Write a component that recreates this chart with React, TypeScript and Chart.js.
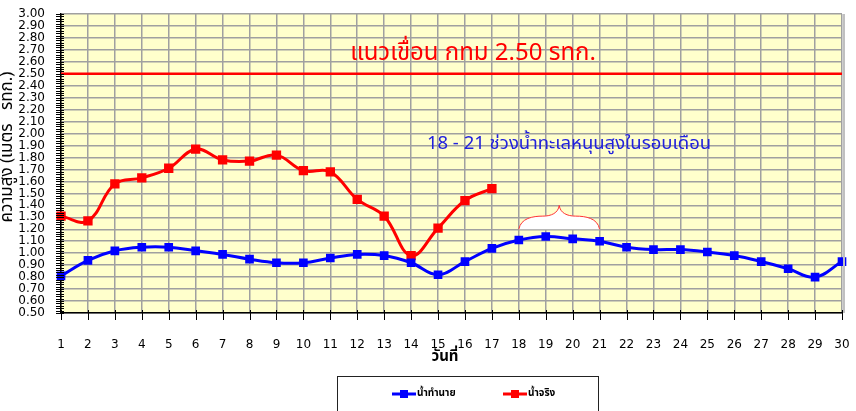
import React, { useEffect, useRef } from "react";
import { Chart, registerables } from "chart.js";

Chart.register(...registerables);

const days = Array.from({ length: 30 }, (_, i) => String(i + 1));
const predicted = [0.81, 0.94, 1.02, 1.05, 1.05, 1.02, 0.99, 0.95, 0.92, 0.92, 0.96, 0.99, 0.98, 0.92, 0.82, 0.93, 1.04, 1.11, 1.14, 1.12, 1.10, 1.05, 1.03, 1.03, 1.01, 0.98, 0.93, 0.87, 0.80, 0.93];
const actual = [1.31, 1.27, 1.58, 1.63, 1.71, 1.87, 1.78, 1.77, 1.82, 1.69, 1.68, 1.45, 1.31, 0.98, 1.21, 1.44, 1.54];
const damLevel = 2.5;
const yMin = 0.5;
const yMax = 3.0;
const labelPredicted = "น้ำทำนาย";
const labelActual = "น้ำจริง";
const damText = "แนวเขื่อน กทม 2.50 รทก.";
const tideText = "18 - 21 ช่วงน้ำทะเลหนุนสูงในรอบเดือน";
const xTitle = "วันที่";
const yTitle = "ความสูง (เมตร   รทก.)";
const tideStart = 17; // index of day 18
const tideEnd = 20; // index of day 21

const THAI = "Tahoma, 'Noto Sans Thai', 'Noto Sans', 'DejaVu Sans', sans-serif";
const NUM = "'DejaVu Sans', Tahoma, sans-serif";

const decorPlugin = {
  id: "decor",
  beforeDraw(chart: any) {
    const { ctx, chartArea } = chart;
    ctx.save();
    ctx.fillStyle = "#ffffcc";
    ctx.fillRect(chartArea.left, chartArea.top, chartArea.right - chartArea.left, chartArea.bottom - chartArea.top);
    ctx.restore();
  },
  afterDatasetsDraw(chart: any) {
    const { ctx, chartArea } = chart;
    const xs = chart.scales.x;
    const ys = chart.scales.y;
    ctx.save();
    // right border shadow
    ctx.fillStyle = "#c0c0c0";
    ctx.fillRect(chartArea.right + 1, chartArea.top, 2, chartArea.bottom - chartArea.top);
    // minor y ticks
    ctx.strokeStyle = "#000";
    ctx.lineWidth = 1;
    for (let v = yMin; v <= yMax + 1e-6; v += 0.02) {
      const y = Math.round(ys.getPixelForValue(v)) + 0.5;
      ctx.beginPath();
      ctx.moveTo(chartArea.left - 5, y);
      ctx.lineTo(chartArea.left + 3, y);
      ctx.stroke();
    }
    // x ticks
    for (let i = 0; i < days.length; i++) {
      const x = Math.round(xs.getPixelForValue(i)) + 0.5;
      ctx.beginPath();
      ctx.moveTo(x, chartArea.bottom - 3);
      ctx.lineTo(x, chartArea.bottom + 7);
      ctx.stroke();
    }
    // bracket
    const x0 = xs.getPixelForValue(tideStart);
    const x1 = xs.getPixelForValue(tideEnd);
    const xm = (x0 + x1) / 2;
    const yb = ys.getPixelForValue(1.2);
    const ysh = ys.getPixelForValue(1.31);
    const yp = ys.getPixelForValue(1.4);
    const path = () => {
      ctx.beginPath();
      ctx.moveTo(x0, yb);
      ctx.bezierCurveTo(x0 + 2, ysh + 2, x0 + 14, ysh, x0 + 24, ysh);
      ctx.bezierCurveTo(xm - 8, ysh, xm - 1, ysh - 3, xm, yp);
      ctx.bezierCurveTo(xm + 1, ysh - 3, xm + 8, ysh, x1 - 24, ysh);
      ctx.bezierCurveTo(x1 - 14, ysh, x1 - 2, ysh + 2, x1, yb);
    };
    path();
    ctx.closePath();
    ctx.fillStyle = "#ffffff";
    ctx.fill();
    path();
    ctx.strokeStyle = "#ff3333";
    ctx.lineWidth = 1;
    ctx.stroke();

    // texts
    ctx.textAlign = "center";
    ctx.textBaseline = "middle";
    ctx.fillStyle = "#ff0000";
    ctx.font = "24px " + THAI;
    ctx.fillText(damText, 473, 55);
    ctx.fillStyle = "#2222dd";
    ctx.font = "18.5px " + THAI;
    ctx.fillText(tideText, 569, 145);

    // x title
    ctx.fillStyle = "#000";
    ctx.font = "bold 15px " + THAI;
    ctx.fillText(xTitle, 445, 358);

    // y title
    ctx.save();
    ctx.translate(9, 147);
    ctx.rotate(-Math.PI / 2);
    ctx.font = "17px " + THAI;
    ctx.fillText(yTitle, 0, 0);
    ctx.restore();

    // legend
    ctx.strokeStyle = "#222";
    ctx.lineWidth = 1;
    ctx.strokeRect(337.5, 376.5, 261, 50);
    const items = [
      { x: 392, color: "#0000ff", label: labelPredicted },
      { x: 503, color: "#ff0000", label: labelActual },
    ];
    for (const it of items) {
      ctx.strokeStyle = it.color;
      ctx.lineWidth = 3;
      ctx.beginPath();
      ctx.moveTo(it.x, 394);
      ctx.lineTo(it.x + 24, 394);
      ctx.stroke();
      ctx.fillStyle = it.color;
      ctx.fillRect(it.x + 8, 390, 8, 8);
      ctx.fillStyle = "#000";
      ctx.textAlign = "left";
      ctx.font = "bold 10px " + THAI;
      ctx.fillText(it.label, it.x + 25, 394);
    }
    ctx.restore();
  },
};

export default function App() {
  const ref = useRef<HTMLCanvasElement>(null);
  useEffect(() => {
    if (!ref.current) return;
    const chart = new Chart(ref.current, {
      type: "line",
      data: {
        labels: days,
        datasets: [
          {
            label: "dam",
            data: days.map(() => damLevel),
            borderColor: "#ff0000",
            borderWidth: 2.5,
            pointRadius: 0,
            tension: 0,
          },
          {
            label: labelPredicted,
            data: predicted,
            borderColor: "#0000ff",
            backgroundColor: "#0000ff",
            borderWidth: 3,
            pointStyle: "rect",
            pointRadius: 4,
            tension: 0.4,
          },
          {
            label: labelActual,
            data: actual,
            borderColor: "#ff0000",
            backgroundColor: "#ff0000",
            borderWidth: 3,
            pointStyle: "rect",
            pointRadius: 4.5,
            tension: 0.4,
          },
        ],
      },
      options: {
        animation: false,
        responsive: false,
        maintainAspectRatio: false,
        layout: { padding: { top: 14, right: 14, left: 0, bottom: 0 } },
        plugins: { legend: { display: false }, tooltip: { enabled: false } },
        scales: {
          x: {
            offset: false,
            afterFit: (s: any) => {
              s.height = 98;
              s.paddingLeft = 0;
              s.paddingRight = 0;
            },
            grid: { color: "#a0a0a0", lineWidth: 1.5, drawTicks: false },
            border: { color: "#000", width: 1.5 },
            ticks: {
              padding: 25,
              autoSkip: false,
              maxRotation: 0,
              color: "#000",
              font: { family: NUM, size: 12 },
            },
          },
          y: {
            min: yMin,
            max: yMax,
            afterFit: (s: any) => {
              s.width = 61;
              s.paddingTop = 0;
              s.paddingBottom = 0;
            },
            grid: { color: "#a0a0a0", lineWidth: 1.5, drawTicks: false },
            border: { color: "#000", width: 1.5 },
            ticks: {
              stepSize: 0.1,
              autoSkip: false,
              padding: 16,
              color: "#000",
              font: { family: NUM, size: 12 },
              callback: (v: any) => Number(v).toFixed(2),
            },
          },
        },
      },
      plugins: [decorPlugin],
    });
    return () => chart.destroy();
  }, []);
  return (
    <div style={{ position: "fixed", left: 0, top: 0, width: 856, height: 411, background: "#fff" }}>
      <canvas ref={ref} width={856} height={411} style={{ display: "block", width: 856, height: 411 }} />
    </div>
  );
}
